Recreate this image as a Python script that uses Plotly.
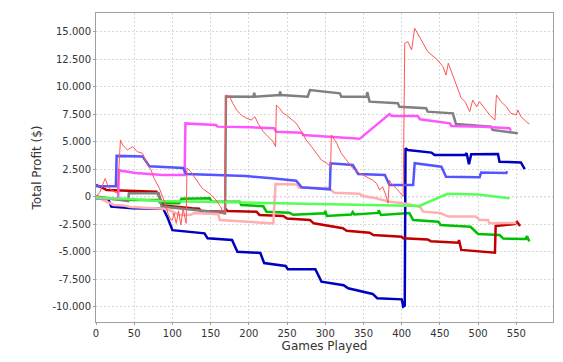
import plotly.graph_objects as go

# ---- data (games played, total profit $) ----
red_g = [0, 5, 12, 16, 20, 25, 28, 30, 32, 35, 41, 48, 54, 61, 65, 72, 76, 83, 87, 92, 94, 98, 100, 102, 105, 108, 111, 114, 118,
         119, 124, 131, 139, 148, 157, 163, 168, 170, 175, 179, 184, 190, 197, 203, 208, 212, 219, 225, 232, 235, 236, 240, 245,
         249, 256, 262, 269, 275, 282, 289, 295, 302, 307, 308, 315, 321, 328, 336, 345, 354, 362, 367, 371, 375, 380, 382, 384,
         386, 395, 402, 404, 408, 413, 417, 421, 428, 434, 441, 447, 454, 458, 461, 465, 469, 474, 478, 483, 489, 493, 498, 502,
         508, 515, 522, 524, 530, 537, 543, 550, 552, 556, 563, 567]
red_v = [0, 400, 1650, 900, 600, 400, 300, 2700, 5150, 4690, 4240, 4540, 4080, 3940, 3170, 2420, 1660, 750, 0, -900, -1520, -2120,
         -2130, -1500, -2430, -1300, -2580, -1100, -2430, 2600, 2260, 1510, 750, 300, -300, -920, -1670, 9240, 9080, 8480, 7870,
         7420, 7120, 6960, 7260, 6660, 5900, 5450, 4990, 4540, 8330, 8030, 7570, 7420, 6960, 6660, 5900, 5150, 4540, 3940, 3330,
         3030, 2720, 5600, 4850, 3940, 3330, 2570, 2120, 1810, 1500, 1210, 600, 900, 0, -600, 1500, 1210, 600, 0, 13940, 14080,
         13330, 15300, 14850, 13940, 13180, 12720, 12420, 11810, 11050, 12120, 11350, 10600, 9690, 8940, 8630, 7720, 8780, 8170,
         8630, 8030, 7420, 6960, 9240, 8630, 8170, 7570, 7420, 7870, 7260, 6810, 6600]

blue_g = [0, 26, 27, 61, 70, 114, 118, 150, 196, 230, 262, 269, 306, 307, 336, 343, 378, 384, 415, 417, 452, 458, 502, 504, 537, 538]
blue_v = [950, 950, 3700, 3650, 2750, 2600, 2050, 1950, 1870, 1660, 1450, 850, 660, 3030, 2870, 2060, 1960, 1060, 1060, 3030,
          2720, 1800, 1750, 2200, 2150, 2300]

lgreen_g = [0, 40, 82, 150, 250, 405, 423, 460, 500, 541]
lgreen_v = [-100, -200, -400, -500, -620, -850, -850, 250, 200, -150]

magenta_g = [0, 29, 30, 33, 52, 87, 116, 117, 157, 159, 203, 233, 236, 269, 271, 345, 384, 387, 421, 424, 463, 465, 506, 541, 543]
magenta_v = [-200, -200, 2400, 2350, 2150, 1960, 1960, 6650, 6500, 6360, 6300, 6210, 5900, 5810, 5600, 5250, 7500, 7330, 7330,
             7030, 6660, 6420, 6360, 6210, 6000]

pink_g = [0, 10, 23, 35, 45, 88, 95, 109, 124, 128, 160, 162, 201, 232, 235, 262, 266, 304, 312, 345, 349, 367, 375, 384, 402,
          420, 424, 428, 450, 461, 497, 502, 513, 515, 550]
pink_v = [0, -300, -760, -800, -950, -1100, -1200, -1670, -1650, -1500, -1600, -2130, -2280, -2430, 1150, 1100, 800, 780, 350,
          250, 50, -150, -310, -460, -610, -850, -920, -1370, -1500, -1820, -1820, -2130, -2130, -2430, -2400]

gray_g = [0, 42, 43, 82, 86, 169, 170, 206, 207, 208, 240, 241, 242, 277, 280, 319, 321, 354, 355, 358, 395, 397, 432, 434, 467,
          469, 471, 517, 519, 552]
gray_v = [0, -400, 300, 300, -900, -1500, 9100, 9080, 9450, 9080, 9240, 9550, 9240, 9080, 9690, 9390, 9080, 9080, 9500, 8630,
          8480, 8170, 8030, 7720, 7570, 6960, 6600, 6360, 6060, 5750]

dred_g = [0, 4, 10, 14, 44, 79, 82, 87, 126, 135, 137, 168, 170, 172, 210, 214, 245, 250, 280, 285, 323, 328, 358, 363, 400, 402,
          434, 438, 474, 475, 478, 522, 523, 548, 551, 555]
dred_v = [1060, 950, 750, 600, 540, 450, 150, -800, -1060, -1100, -1300, -1370, -1150, -1300, -1370, -1670, -1760, -2000, -2130,
          -2430, -2880, -3100, -3280, -3490, -3640, -3790, -3900, -4050, -4200, -3950, -4850, -5100, -2670, -2490, -2300, -2670]

dblue_g = [16, 20, 48, 88, 94, 100, 142, 146, 178, 185, 215, 220, 248, 251, 287, 295, 324, 330, 362, 368, 400, 402, 404, 405,
           408, 439, 443, 483, 485, 488, 491, 526, 528, 556, 561]
dblue_v = [-250, -900, -1060, -1100, -1970, -3050, -3340, -3790, -3950, -5010, -5120, -6040, -6300, -6610, -6610, -7730, -8050,
           -8340, -8850, -9240, -9340, -10000, -9900, 4390, 4240, 4000, 3780, 3780, 3950, 2950, 3850, 3870, 3170, 3100, 2500]

dgreen_g = [0, 15, 50, 80, 85, 109, 112, 149, 151, 188, 190, 219, 223, 253, 258, 299, 300, 302, 334, 336, 338, 369, 370, 373,
            410, 415, 448, 451, 490, 500, 528, 533, 562, 564, 567]
dgreen_v = [0, -200, -300, -300, -600, -600, -200, -150, -460, -460, -760, -880, -1370, -1460, -1650, -1520, -1300, -1760, -1620,
            -1400, -1620, -1480, -1250, -1670, -1500, -2130, -2280, -2580, -2740, -3400, -3490, -3820, -3850, -3600, -4070]

y_ticks = [-10000, -7500, -5000, -2500, 0, 2500, 5000, 7500, 10000, 12500, 15000]
y_labels = ["-10.000", "-7.500", "-5.000", "-2.500", "0", "2.500", "5.000", "7.500", "10.000", "12.500", "15.000"]
x_ticks = [0, 50, 100, 150, 200, 250, 300, 350, 400, 450, 500, 550]

# drawn bottom-to-top (first series ends on top, as in the original)
series = [
    (dgreen_g, dgreen_v, "#00C000", 2.5),
    (dblue_g, dblue_v, "#0000C0", 2.5),
    (dred_g, dred_v, "#C00000", 2.5),
    (gray_g, gray_v, "#808080", 2.5),
    (pink_g, pink_v, "#FFAFAF", 2.5),
    (magenta_g, magenta_v, "#FF55FF", 2.5),
    (lgreen_g, lgreen_v, "#55FF55", 2.5),
    (blue_g, blue_v, "#5555FF", 2.5),
    (red_g, red_v, "#FF5555", 1),
]

fig = go.Figure()
for gx, gy, col, w in series:
    fig.add_trace(go.Scatter(x=gx, y=gy, mode="lines", line=dict(color=col, width=w), showlegend=False, hoverinfo="skip"))

fig.add_shape(type="line", xref="paper", x0=0, x1=1, yref="y", y0=0, y1=0,
              line=dict(color="rgba(40,40,255,0.8)", width=1, dash="2px,2px"), layer="below")

axis_common = dict(showline=True, mirror=True, linecolor="#a0a0a0", linewidth=1,
                   gridcolor="#d8d8d8", griddash="2px,2px", gridwidth=1, zeroline=False,
                   ticks="outside", ticklen=2, tickcolor="#a0a0a0", automargin=False,
                   tickfont=dict(family="DejaVu Sans", size=10, color="#333333"))

fig.update_layout(
    width=555, height=354,
    margin=dict(l=88, r=10, t=5, b=40),
    paper_bgcolor="white", plot_bgcolor="white",
    xaxis=dict(range=[0, 598], tickvals=x_ticks,
               title=dict(text="Games Played", font=dict(family="DejaVu Sans", size=12, color="#333333"), standoff=2),
               **axis_common),
    yaxis=dict(range=[-11400, 16690], tickvals=y_ticks, ticktext=y_labels,
               title=dict(text="Total Profit ($)", font=dict(family="DejaVu Sans", size=12, color="#333333"), standoff=8),
               **axis_common),
)

fig.write_html("out.html")
